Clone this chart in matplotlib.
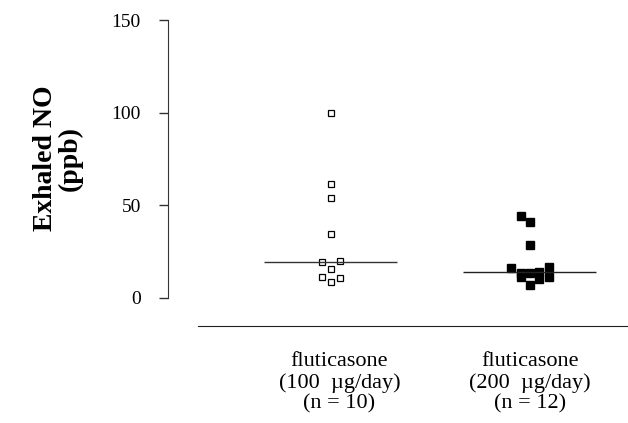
import matplotlib.pyplot as plt

# Exhaled NO (ppb) per patient
grupo_100 = [100, 61.3, 54.0, 34.2, 19.1, 19.9, 15.3, 11.3, 10.7, 8.4]
grupo_200 = [44.3, 40.7, 28.4, 15.8, 13.4, 11.0, 13.1, 6.8, 13.8, 9.9, 16.7, 11.0]
mediana_100 = 19.4
mediana_200 = 13.8

# horizontal spread of the points (units of category spacing)
desloc_100 = [0, 0, 0, 0, -0.047, 0.047, 0, -0.047, 0.047, 0]
desloc_200 = [-0.047, 0, 0, -0.095, -0.047, -0.047, 0, 0, 0.047, 0.047, 0.095, 0.095]

rotulos = ["fluticasone\n(100  \u00b5g/day)\n(n = 10)",
           "fluticasone\n(200  \u00b5g/day)\n(n = 12)"]
yticks = [0, 50, 100, 150]

plt.rcParams['font.family'] = ['Liberation Serif', 'DejaVu Serif']

fig = plt.figure(figsize=(6.28, 4.23), dpi=100)
ax = fig.add_axes([168 / 628, (423 - 327.05) / 423, 460 / 628, 310.25 / 423])

x1 = [1 + d for d in desloc_100]
x2 = [2 + d for d in desloc_200]
ax.plot(x1, grupo_100, 's', ms=5, mfc='white', mec='black', mew=0.9, ls='none')
ax.plot(x2, grupo_200, 's', ms=5.5, mfc='black', mec='black', ls='none')

# linhas da mediana
ax.hlines(mediana_100, 1 - 0.334, 1 + 0.334, color='#333333', lw=1)
ax.hlines(mediana_200, 2 - 0.334, 2 + 0.334, color='#222222', lw=1)

ax.set_xlim(0.181, 2.493)
ax.set_ylim(-16, 152)

ax.spines['top'].set_visible(False)
ax.spines['right'].set_visible(False)
ax.spines['left'].set_bounds(0, 150)
ax.spines['left'].set_color('#333333')
ax.spines['bottom'].set_position(('data', -15.4))
ax.spines['bottom'].set_bounds(0.332, 2.493)
ax.spines['bottom'].set_color('#222222')

ax.set_yticks(yticks)
ax.tick_params(axis='y', length=6.5, width=1, color='#333333', pad=13, labelsize=14)
ax.set_xticks([1.043, 2.0])
ax.set_xticklabels(rotulos, fontsize=16, linespacing=1.1)
ax.tick_params(axis='x', length=0, pad=19)

fig.text(0.092, 0.626, "Exhaled NO\n(ppb)", rotation=90, ha='center', va='center',
         fontsize=20, fontweight='bold', linespacing=0.95)

fig.savefig("out.png", dpi=100)
